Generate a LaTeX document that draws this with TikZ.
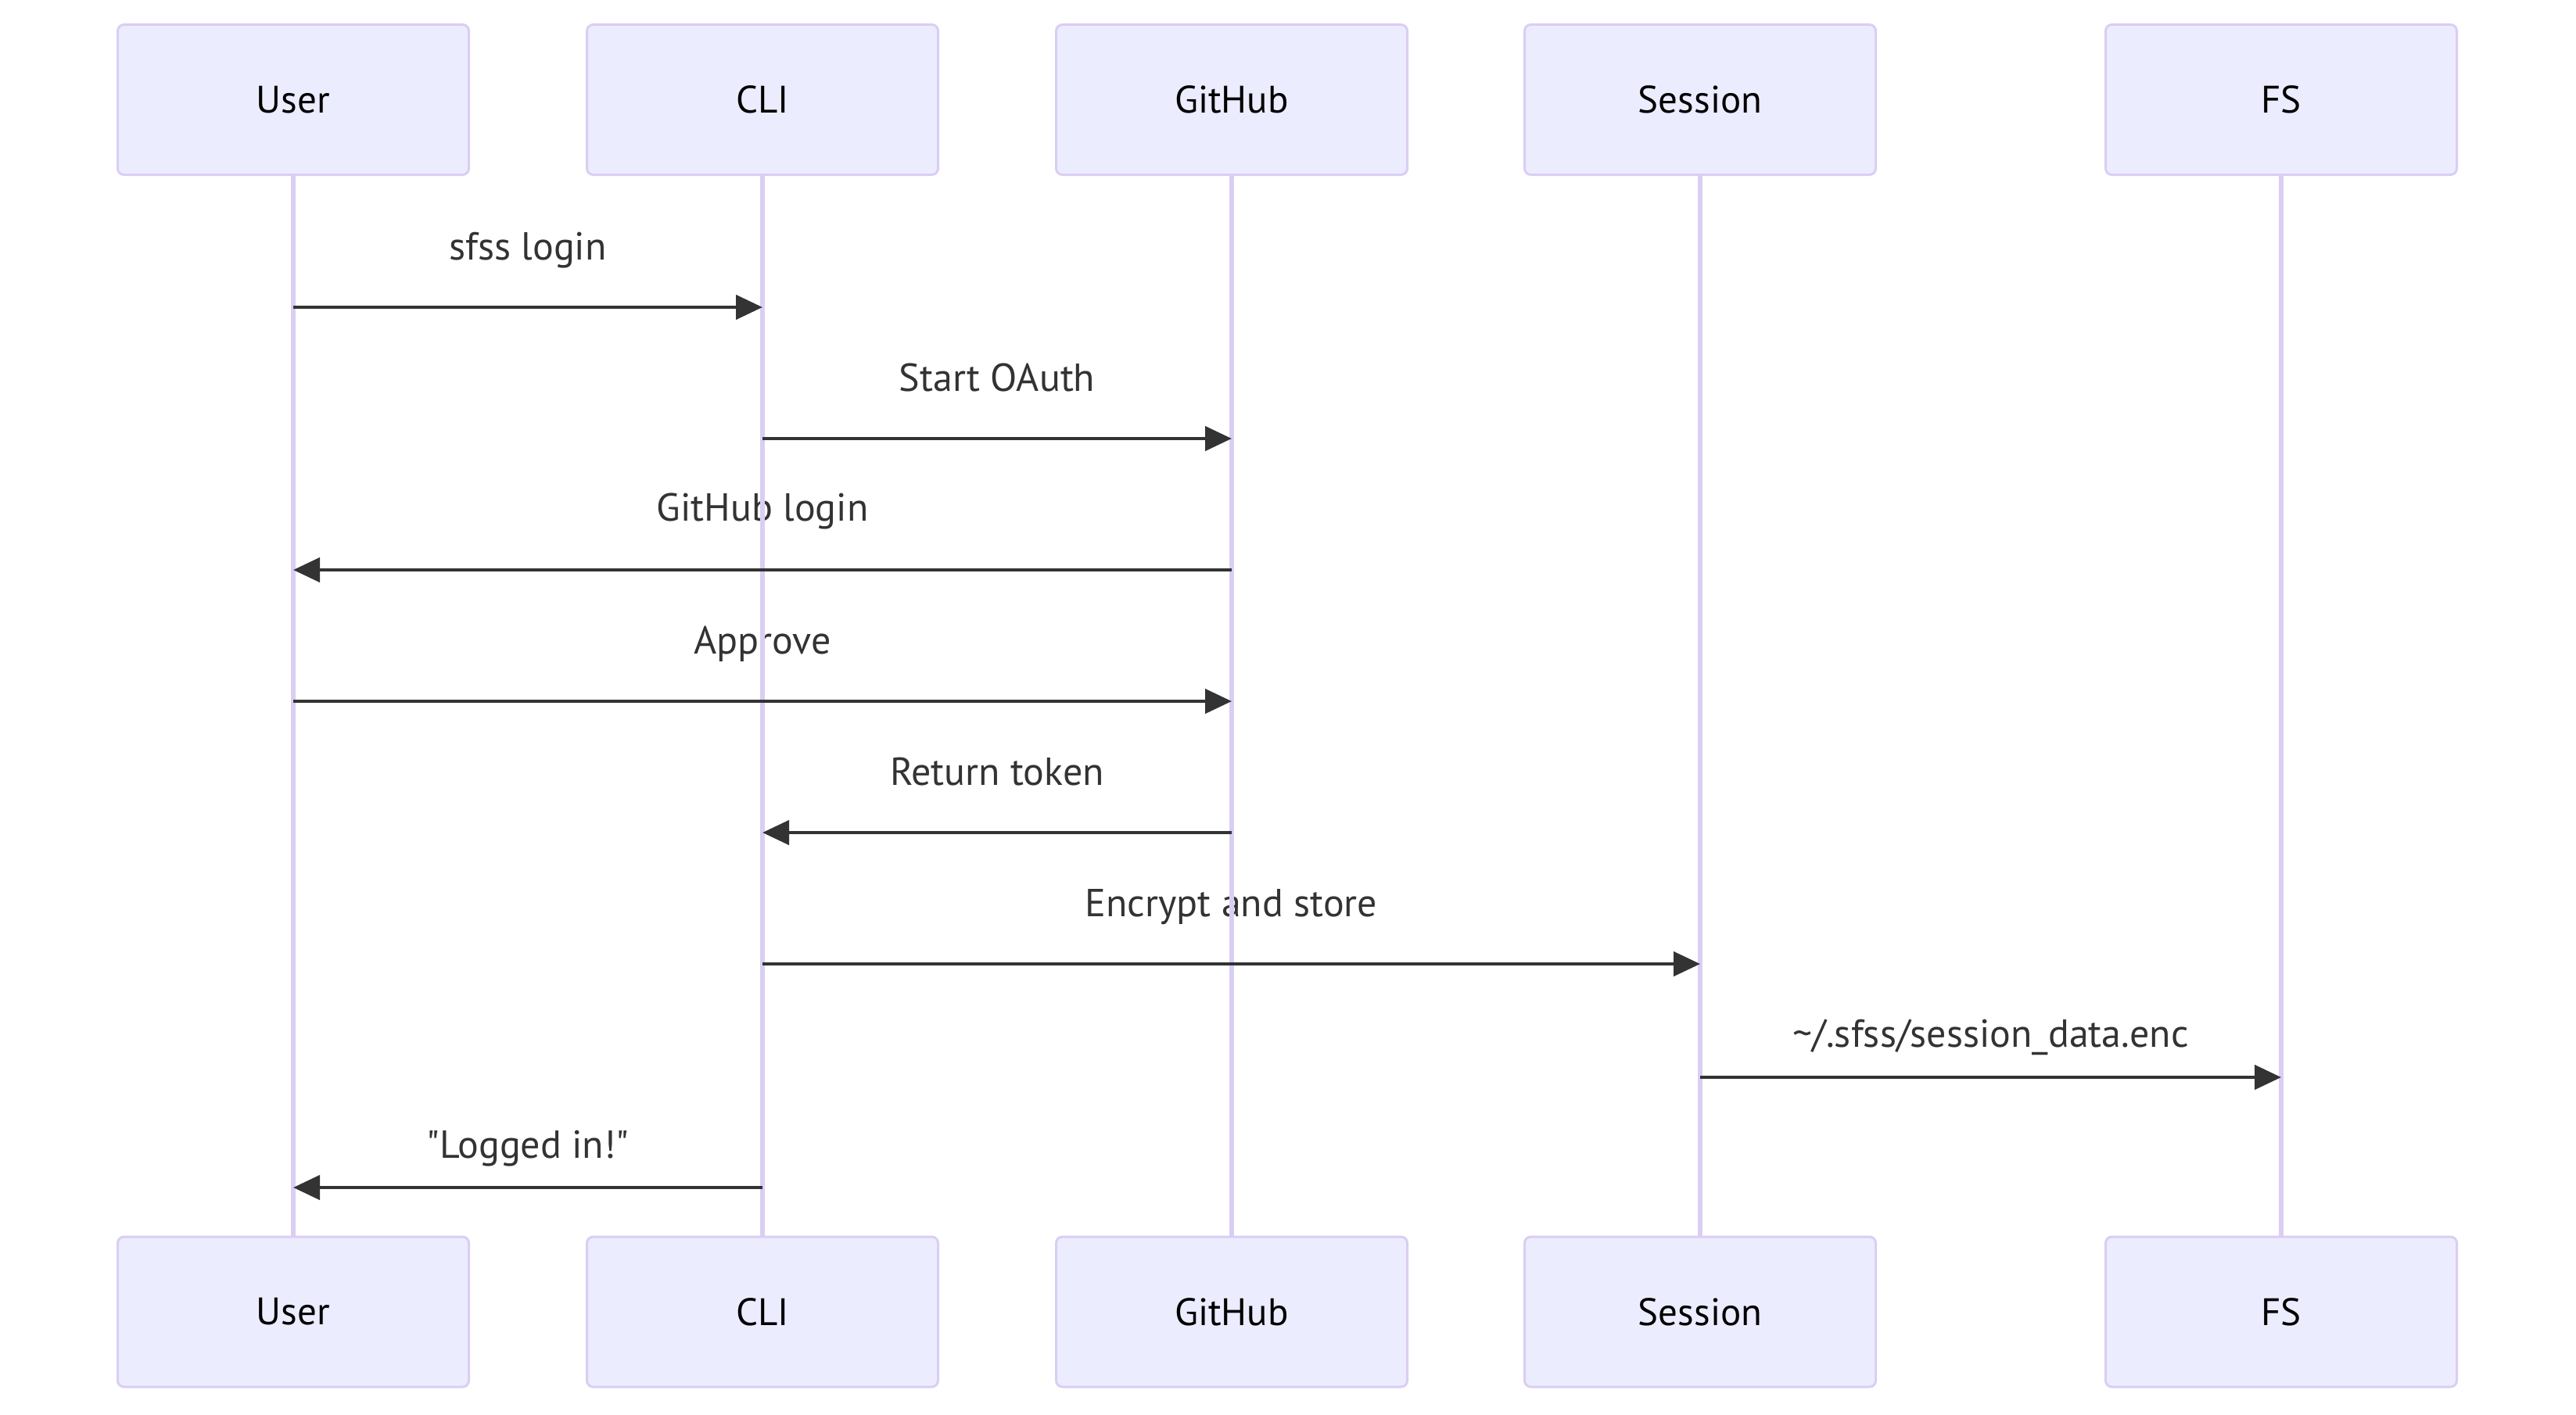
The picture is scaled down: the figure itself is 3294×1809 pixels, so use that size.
\documentclass[tikz,border=0pt]{standalone}
\usepackage{fontspec}
\setmainfont{PT Sans}[Ligatures=TeXOff]
\usetikzlibrary{arrows.meta,calc}
\definecolor{actfill}{HTML}{ECECFF}
\definecolor{actline}{HTML}{DACEF3}
\definecolor{msgcol}{HTML}{333333}
\begin{document}
\begin{tikzpicture}[x=1pt,y=-1pt,
  actor/.style={draw=actline, fill=actfill, line width=3pt, rounded corners=8pt,
    minimum width=449pt, minimum height=192pt, inner sep=0pt,
    font=\fontsize{49}{58}\selectfont, text=black},
  lifeline/.style={draw=actline, line width=5.5pt},
  msg/.style={draw=msgcol, line width=4.5pt, -{Triangle[length=34pt,width=31pt]}},
  lbl/.style={font=\fontsize{50}{60}\selectfont, text=msgcol, inner sep=0pt, anchor=base}]
\useasboundingbox (0,0) rectangle (3294,1809);
\fill[white] (0,0) rectangle (3294,1809);

% actors top
\node[actor] (uT) at (375,127.5) {User};
\node[actor] (cT) at (975,127.5) {CLI};
\node[actor] (gT) at (1575,127.5) {GitHub};
\node[actor] (sT) at (2174,127.5) {Session};
\node[actor] (fT) at (2917,127.5) {FS};
% actors bottom
\node[actor] (uB) at (375,1678) {User};
\node[actor] (cB) at (975,1678) {CLI};
\node[actor] (gB) at (1575,1678) {GitHub};
\node[actor] (sB) at (2174,1678) {Session};
\node[actor] (fB) at (2917,1678) {FS};

% message labels
\path (uT.south |- 0,393) -- node[lbl, yshift=61pt] (l1) {sfss login} (cT.south |- 0,393);
\path (cT.south |- 0,561) -- node[lbl, yshift=61pt] (l2) {Start OAuth} (gT.south |- 0,561);
\path (gT.south |- 0,729) -- node[lbl, yshift=63pt] (l3) {GitHub login} (uT.south |- 0,729);
\path (uT.south |- 0,897) -- node[lbl, yshift=61pt] (l4) {Approve} (gT.south |- 0,897);
\path (gT.south |- 0,1065) -- node[lbl, yshift=61pt] (l5) {Return token} (cT.south |- 0,1065);
\path (cT.south |- 0,1233) -- node[lbl, yshift=61pt] (l6) {Encrypt and store} (sT.south |- 0,1233);
\path (sT.south |- 0,1378) -- node[lbl, yshift=39pt] (l7) {\textasciitilde/.sfss/session\_data.enc} (fT.south |- 0,1378);
\path (cT.south |- 0,1519) -- node[lbl, yshift=38pt] (l8) {\symbol{34}Logged in!\symbol{34}} (uT.south |- 0,1519);

% lifelines
\draw[lifeline] (uT.south) -- (uB.north);
\draw[lifeline] (cT.south) -- (cB.north);
\draw[lifeline] (gT.south) -- (gB.north);
\draw[lifeline] (sT.south) -- (sB.north);
\draw[lifeline] (fT.south) -- (fB.north);

% messages
\draw[msg] (uT.south |- 0,393) -- (cT.south |- 0,393);
\draw[msg] (cT.south |- 0,561) -- (gT.south |- 0,561);
\draw[msg] (gT.south |- 0,729) -- (uT.south |- 0,729);
\draw[msg] (uT.south |- 0,897) -- (gT.south |- 0,897);
\draw[msg] (gT.south |- 0,1065) -- (cT.south |- 0,1065);
\draw[msg] (cT.south |- 0,1233) -- (sT.south |- 0,1233);
\draw[msg] (sT.south |- 0,1378) -- (fT.south |- 0,1378);
\draw[msg] (cT.south |- 0,1519) -- (uT.south |- 0,1519);
\end{tikzpicture}
\end{document}
